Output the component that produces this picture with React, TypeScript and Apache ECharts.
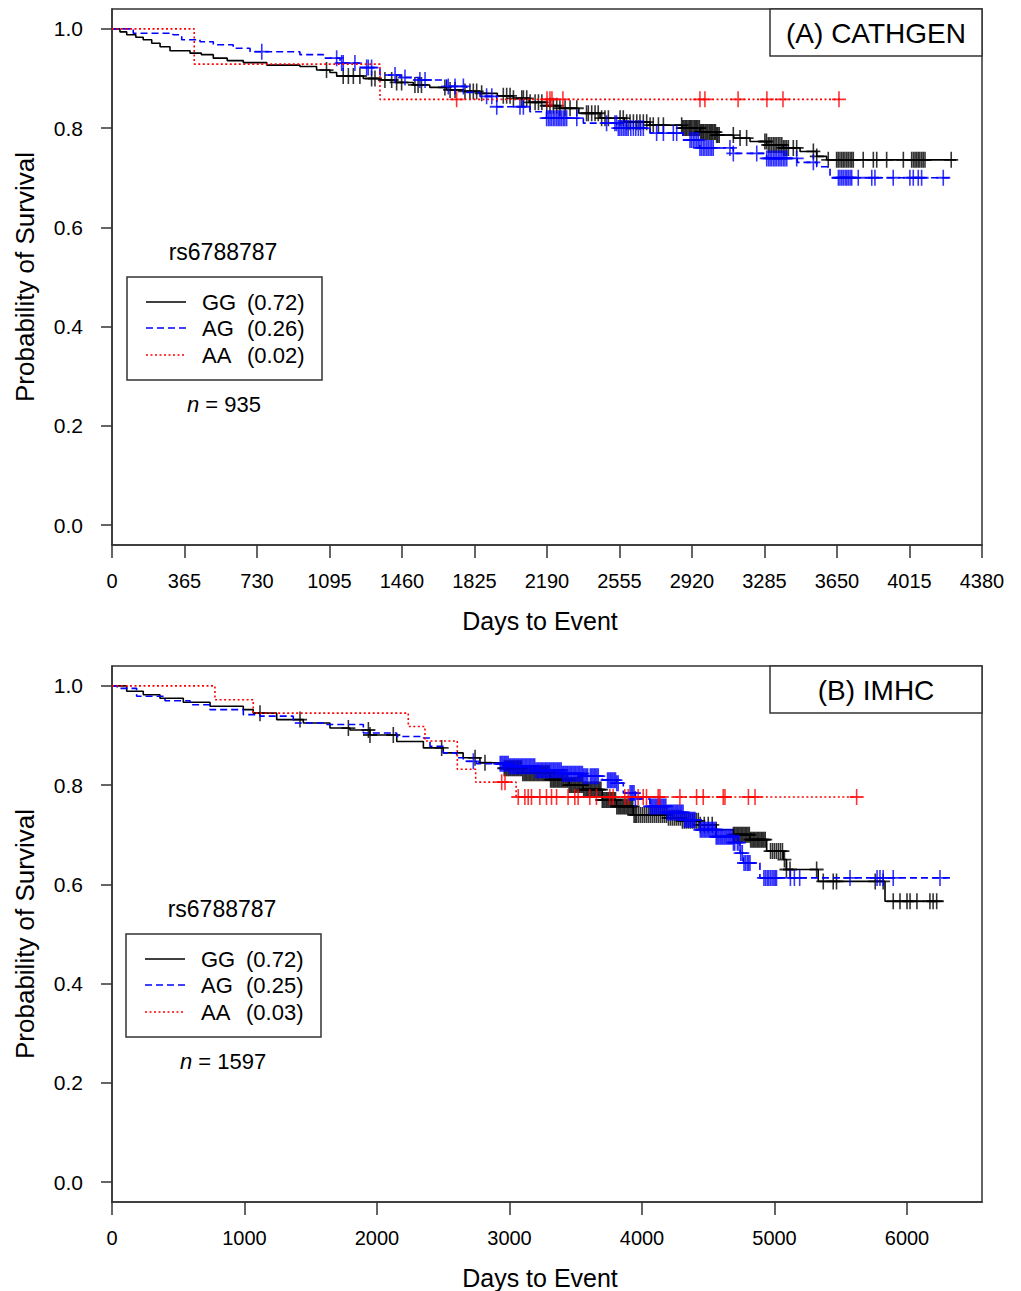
import React, { useEffect, useRef } from "react";
import * as echarts from "echarts";

const FONT = '"Liberation Sans", Arial, Helvetica, sans-serif';

// ---------- Panel A: CATHGEN ----------
const A_X_TICKS = [0, 365, 730, 1095, 1460, 1825, 2190, 2555, 2920, 3285, 3650, 4015, 4380];
const Y_TICKS = [0, 0.2, 0.4, 0.6, 0.8, 1.0];

const A_GG_STEPS: [number, number][] = [
  [0, 1.0], [40, 0.994], [74, 0.988], [120, 0.983], [157, 0.978], [200, 0.971], [242, 0.964], [292, 0.956],
  [393, 0.951], [450, 0.948], [510, 0.941], [580, 0.936], [661, 0.932], [779, 0.927], [946, 0.924],
  [1030, 0.917], [1097, 0.912], [1131, 0.905], [1265, 0.9], [1349, 0.897], [1430, 0.892], [1517, 0.887],
  [1600, 0.882], [1685, 0.877], [1770, 0.874], [1853, 0.87], [1940, 0.865], [2021, 0.86], [2100, 0.852],
  [2188, 0.845], [2255, 0.84], [2350, 0.83], [2457, 0.82], [2580, 0.812], [2709, 0.806], [2870, 0.8],
  [2960, 0.792], [3044, 0.786], [3130, 0.78], [3212, 0.773], [3296, 0.766], [3380, 0.76], [3464, 0.753],
  [3548, 0.743], [3598, 0.736], [4250, 0.736],
];
const A_AG_STEPS: [number, number][] = [
  [0, 1.0], [107, 0.991], [307, 0.988], [351, 0.978], [443, 0.974], [510, 0.968], [610, 0.961], [695, 0.954],
  [946, 0.948], [1064, 0.941], [1148, 0.931], [1250, 0.922], [1349, 0.907], [1450, 0.902], [1550, 0.897],
  [1685, 0.884], [1786, 0.872], [1853, 0.864], [1937, 0.843], [2104, 0.833], [2188, 0.82], [2373, 0.81],
  [2541, 0.8], [2709, 0.79], [2875, 0.776], [2960, 0.76], [3128, 0.749], [3296, 0.739], [3450, 0.731],
  [3548, 0.722], [3615, 0.7], [4219, 0.7],
];
const A_AA_STEPS: [number, number][] = [[0, 1.0], [414, 0.929], [1349, 0.858], [3665, 0.858]];

const A_GG_CENSOR = [1080, 1164, 1190, 1215, 1248, 1307, 1324, 1374, 1408, 1433, 1458, 1525, 1541, 1558, 1676,
  1702, 1727, 1777, 1802, 1819, 1836, 1861, 1970, 1987, 2004, 2021, 2063, 2071, 2088, 2105, 2130, 2147, 2164,
  2189, 2205, 2222, 2239, 2255, 2281, 2306, 2340, 2389, 2398, 2415, 2432, 2448, 2465, 2482, 2499, 2558, 2574,
  2591, 2608, 2625, 2642, 2658, 2675, 2692, 2709, 2725, 2751, 2776, 2868, 2874, 2880, 2887, 2893, 2900, 2907,
  2912, 2918, 2925, 2932, 2938, 2944, 2950, 2957, 2963, 2969, 2975, 2980, 2987, 2994, 3000, 3007, 3013, 3019,
  3025, 3032, 3038, 3044, 3050, 3057, 3128, 3162, 3195, 3287, 3295, 3304, 3312, 3321, 3330, 3338, 3346, 3355,
  3363, 3372, 3380, 3388, 3396, 3405, 3430, 3447, 3531, 3548, 3606, 3648, 3656, 3665, 3674, 3682, 3690, 3699,
  3707, 3716, 3724, 3732, 3782, 3833, 3850, 3900, 3984, 4026, 4035, 4043, 4051, 4059, 4067, 4076, 4084, 4093,
  4225];
const A_AG_CENSOR = [754, 1131, 1156, 1164, 1223, 1282, 1290, 1307, 1425, 1475, 1550, 1576, 1693, 1727, 1769,
  1886, 1912, 1937, 2054, 2071, 2188, 2197, 2205, 2213, 2222, 2230, 2239, 2247, 2255, 2263, 2272, 2280, 2289,
  2340, 2490, 2532, 2540, 2549, 2557, 2566, 2575, 2583, 2591, 2599, 2612, 2625, 2637, 2650, 2662, 2675, 2742,
  2776, 2826, 2843, 2910, 2918, 2927, 2935, 2944, 2952, 2960, 2968, 2977, 2985, 2994, 3002, 3011, 3019, 3027,
  3111, 3128, 3246, 3296, 3305, 3313, 3321, 3330, 3338, 3346, 3355, 3363, 3371, 3380, 3388, 3397, 3447, 3531,
  3657, 3665, 3674, 3682, 3691, 3699, 3707, 3716, 3724, 3757, 3825, 3841, 3933, 4017, 4034, 4059, 4076, 4185];
const A_AA_CENSOR = [1735, 2190, 2205, 2215, 2270, 2960, 2985, 3152, 3297, 3378, 3660];

// ---------- Panel B: IMHC ----------
const B_X_TICKS = [0, 1000, 2000, 3000, 4000, 5000, 6000];

const B_GG_STEPS: [number, number][] = [
  [0, 1.0], [111, 0.989], [236, 0.982], [362, 0.975], [538, 0.967], [740, 0.959], [991, 0.952], [1066, 0.945],
  [1243, 0.932], [1444, 0.925], [1645, 0.915], [1796, 0.911], [1947, 0.901], [2149, 0.888], [2350, 0.875],
  [2500, 0.865], [2650, 0.855], [2777, 0.845], [2953, 0.834], [3100, 0.824], [3306, 0.811], [3450, 0.8],
  [3555, 0.791], [3700, 0.77], [3808, 0.757], [3934, 0.74], [4186, 0.734], [4300, 0.728], [4438, 0.72],
  [4560, 0.71], [4689, 0.7], [4815, 0.69], [4941, 0.667], [5066, 0.65], [5090, 0.63], [5330, 0.606],
  [5834, 0.566], [6274, 0.566],
];
const B_AG_STEPS: [number, number][] = [
  [0, 1.0], [40, 0.995], [186, 0.979], [400, 0.97], [589, 0.962], [740, 0.952], [991, 0.942], [1117, 0.939],
  [1368, 0.925], [1595, 0.922], [1897, 0.905], [2149, 0.898], [2350, 0.895], [2400, 0.878], [2500, 0.865],
  [2601, 0.855], [2651, 0.848], [2752, 0.843], [3000, 0.838], [3200, 0.83], [3400, 0.823], [3555, 0.818],
  [3700, 0.81], [3808, 0.804], [3859, 0.784], [3950, 0.772], [4060, 0.757], [4190, 0.745], [4312, 0.73],
  [4438, 0.71], [4560, 0.696], [4689, 0.684], [4740, 0.663], [4765, 0.643], [4890, 0.613], [6324, 0.613],
];
const B_AA_STEPS: [number, number][] = [
  [0, 1.0], [777, 0.972], [1066, 0.945], [2236, 0.918], [2362, 0.889], [2606, 0.832], [2745, 0.806],
  [3050, 0.776], [5620, 0.776],
];

const B_GG_CENSOR = [1117, 1419, 1784, 1935, 1947, 2123, 2488, 2740, 2815, 2960, 2970, 2980, 2990, 3000, 3010,
  3020, 3030, 3040, 3050, 3060, 3070, 3080, 3090, 3100, 3110, 3120, 3130, 3140, 3150, 3160, 3170, 3180, 3190,
  3200, 3210, 3220, 3230, 3240, 3250, 3260, 3270, 3280, 3290, 3300, 3310, 3320, 3330, 3340, 3350, 3360, 3370,
  3380, 3390, 3400, 3410, 3420, 3430, 3440, 3450, 3460, 3470, 3480, 3490, 3500, 3510, 3520, 3530, 3540, 3550,
  3560, 3570, 3580, 3590, 3600, 3610, 3620, 3630, 3640, 3650, 3660, 3670, 3680, 3690, 3700, 3710, 3720, 3730,
  3740, 3750, 3760, 3770, 3780, 3790, 3800, 3810, 3820, 3830, 3840, 3850, 3860, 3870, 3880, 3890, 3900, 3910,
  3920, 3930, 3940, 3950, 3960, 3975, 3990, 4005, 4020, 4035, 4050, 4065, 4080, 4095, 4110, 4125, 4140, 4155,
  4170, 4185, 4200, 4215, 4230, 4245, 4260, 4275, 4290, 4305, 4320, 4335, 4350, 4365, 4380, 4395, 4410, 4425,
  4440, 4470, 4500, 4530, 4560, 4690, 4700, 4710, 4720, 4730, 4740, 4750, 4760, 4770, 4780, 4790, 4800, 4810,
  4820, 4830, 4840, 4850, 4860, 4870, 4880, 4890, 4900, 4910, 4920, 4930, 4970, 4985, 5000, 5015, 5030, 5045,
  5060, 5075, 5090, 5117, 5318, 5368, 5443, 5468, 5760, 5820, 5896, 5947, 6000, 6023, 6075, 6173, 6197, 6224];
const B_AG_CENSOR = [2727, 2930, 2940, 2950, 2960, 2970, 2980, 2990, 3000, 3010, 3020, 3030, 3040, 3050, 3060,
  3070, 3080, 3090, 3100, 3110, 3120, 3130, 3140, 3150, 3160, 3170, 3180, 3190, 3200, 3210, 3220, 3230, 3240,
  3250, 3260, 3270, 3280, 3290, 3300, 3310, 3320, 3330, 3340, 3350, 3360, 3370, 3380, 3390, 3400, 3410, 3420,
  3430, 3440, 3450, 3460, 3470, 3480, 3490, 3500, 3510, 3520, 3530, 3540, 3550, 3560, 3570, 3580, 3590, 3610,
  3620, 3630, 3640, 3650, 3660, 3670, 3740, 3750, 3760, 3770, 3780, 3790, 3800, 3810, 3820, 3910, 3920, 3930,
  3940, 3950, 4060, 4070, 4080, 4090, 4100, 4110, 4120, 4130, 4140, 4150, 4160, 4170, 4180, 4190, 4200, 4210,
  4220, 4230, 4240, 4250, 4260, 4270, 4280, 4290, 4300, 4310, 4320, 4330, 4340, 4350, 4360, 4370, 4380, 4390,
  4400, 4440, 4450, 4460, 4470, 4480, 4490, 4500, 4510, 4520, 4530, 4540, 4550, 4560, 4570, 4580, 4590, 4600,
  4610, 4620, 4630, 4640, 4650, 4660, 4670, 4680, 4690, 4700, 4720, 4732, 4745, 4757, 4770, 4782, 4795, 4805,
  4815, 4920, 4932, 4945, 4957, 4970, 4982, 4995, 5005, 5015, 5120, 5150, 5190, 5570, 5774, 5796, 5820, 5896,
  6249];
const B_AA_CENSOR = [2941, 2966, 3066, 3116, 3141, 3166, 3229, 3279, 3317, 3355, 3442, 3493, 3518, 3606, 3656,
  3757, 3782, 3870, 3896, 3971, 4009, 4034, 4122, 4135, 4286, 4412, 4462, 4613, 4626, 4803, 4853, 5620];

const GENOTYPES = ["GG", "AG", "AA"];
const A_FREQ = ["(0.72)", "(0.26)", "(0.02)"];
const B_FREQ = ["(0.72)", "(0.25)", "(0.03)"];
const A_N = 935;
const B_N = 1597;

const COLORS = ["#000000", "#0000FF", "#FF0000"];
const DASHES: (number[] | undefined)[] = [undefined, [7, 4], [2, 2.5]];

const PLUS = "path://M5,0L5,10M0,5L10,5";

function survAt(steps: [number, number][], t: number) {
  let s = steps[0][1];
  for (const [d, v] of steps) {
    if (d <= t) s = v;
    else break;
  }
  return s;
}

function makeSeries(idx: number, steps: [number, number][][], censors: number[][]) {
  const out: any[] = [];
  for (let k = 0; k < 3; k++) {
    out.push({
      type: "line",
      xAxisIndex: idx,
      yAxisIndex: idx,
      step: "end",
      showSymbol: false,
      symbol: "none",
      silent: true,
      data: steps[k],
      lineStyle: { color: COLORS[k], width: 1.6, type: DASHES[k] ?? "solid" },
      z: 2 + k,
    });
    out.push({
      type: "scatter",
      xAxisIndex: idx,
      yAxisIndex: idx,
      symbol: PLUS,
      symbolSize: [14, 16],
      silent: true,
      data: censors[k].map((t) => [t, survAt(steps[k], t)]),
      itemStyle: { color: "rgba(0,0,0,0)", borderColor: COLORS[k], borderWidth: 1.7 },
      z: 2 + k,
    });
  }
  return out;
}

function panelGraphics(top: number, title: string, freqs: string[], n: number, offsetX: number) {
  const g: any[] = [];
  g.push({
    type: "rect",
    shape: { x: 770, y: top, width: 212, height: 47 },
    style: { fill: "#fff", stroke: "#333", lineWidth: 1.5 },
    z: 20,
  });
  g.push({
    type: "text",
    x: 876,
    y: top + 24,
    style: { text: title, font: `28px ${FONT}`, fill: "#000", align: "center", verticalAlign: "middle" },
    z: 21,
  });
  g.push({
    type: "text",
    x: 25,
    y: top + 268,
    rotation: Math.PI / 2,
    style: {
      text: "Probability of Survival",
      font: `26px ${FONT}`,
      fill: "#000",
      align: "center",
      verticalAlign: "middle",
    },
  });
  g.push({
    type: "text",
    x: 540,
    y: top + 612,
    style: { text: "Days to Event", font: `25px ${FONT}`, fill: "#000", align: "center", verticalAlign: "middle" },
  });
  g.push({
    type: "text",
    x: 223 + offsetX,
    y: top + 243,
    style: { text: "rs6788787", font: `23px ${FONT}`, fill: "#000", align: "center", verticalAlign: "middle" },
  });
  g.push({
    type: "rect",
    shape: { x: 127 + offsetX, y: top + 268, width: 195, height: 103 },
    style: { fill: "#fff", stroke: "#333", lineWidth: 1.5 },
  });
  const rowY = [top + 293, top + 319, top + 346];
  for (let k = 0; k < 3; k++) {
    g.push({
      type: "line",
      shape: { x1: 146 + offsetX, y1: rowY[k], x2: 186 + offsetX, y2: rowY[k] },
      style: { stroke: COLORS[k], lineWidth: 1.4, lineDash: DASHES[k] ?? null },
    });
    g.push({
      type: "text",
      x: 202 + offsetX,
      y: rowY[k],
      style: { text: GENOTYPES[k], font: `22px ${FONT}`, fill: "#000", align: "left", verticalAlign: "middle" },
    });
    g.push({
      type: "text",
      x: 247 + offsetX,
      y: rowY[k],
      style: { text: freqs[k], font: `22px ${FONT}`, fill: "#000", align: "left", verticalAlign: "middle" },
    });
  }
  g.push({
    type: "text",
    x: 224 + offsetX,
    y: top + 395,
    style: {
      text: `{i|n} = ${n}`,
      font: `22px ${FONT}`,
      fill: "#000",
      align: "center",
      verticalAlign: "middle",
      rich: { i: { fontStyle: "italic", fontSize: 22, fontFamily: FONT, fill: "#000" } },
    },
  });
  return g;
}

function xAxisCfg(idx: number, max: number, ticks: number[]) {
  return {
    type: "value",
    gridIndex: idx,
    min: 0,
    max,
    axisLine: { show: true, onZero: false, lineStyle: { color: "#333", width: 1.5 } },
    axisTick: { show: true, length: 13, customValues: ticks, lineStyle: { color: "#333", width: 1.5 } },
    axisLabel: {
      customValues: ticks,
      fontSize: 20,
      fontFamily: FONT,
      color: "#000",
      margin: 26,
      formatter: (v: number) => String(Math.round(v)),
    },
    splitLine: { show: false },
  };
}

function yAxisCfg(idx: number) {
  return {
    type: "value",
    gridIndex: idx,
    min: -0.04,
    max: 1.04,
    axisLine: { show: true, onZero: false, lineStyle: { color: "#333", width: 1.5 } },
    axisTick: { show: true, length: 11, customValues: Y_TICKS, lineStyle: { color: "#333", width: 1.5 } },
    axisLabel: {
      customValues: Y_TICKS,
      fontSize: 21,
      fontFamily: FONT,
      color: "#000",
      margin: 29,
      formatter: (v: number) => v.toFixed(1),
    },
    splitLine: { show: false },
  };
}

export default function App() {
  const ref = useRef<HTMLDivElement>(null);
  useEffect(() => {
    document.body.style.margin = "0";
    if (!ref.current) return;
    const chart = echarts.init(ref.current, undefined, { renderer: "svg" });
    const option: any = {
      animation: false,
      backgroundColor: "#fff",
      grid: [
        { left: 112, top: 9, width: 870, height: 536, show: true, borderColor: "#333", borderWidth: 1.5, backgroundColor: "transparent" },
        { left: 112, top: 666, width: 870, height: 536, show: true, borderColor: "#333", borderWidth: 1.5, backgroundColor: "transparent" },
      ],
      xAxis: [xAxisCfg(0, 4380, A_X_TICKS), xAxisCfg(1, 6566, B_X_TICKS)],
      yAxis: [yAxisCfg(0), yAxisCfg(1)],
      series: [
        ...makeSeries(0, [A_GG_STEPS, A_AG_STEPS, A_AA_STEPS], [A_GG_CENSOR, A_AG_CENSOR, A_AA_CENSOR]),
        ...makeSeries(1, [B_GG_STEPS, B_AG_STEPS, B_AA_STEPS], [B_GG_CENSOR, B_AG_CENSOR, B_AA_CENSOR]),
      ],
      graphic: [
        ...panelGraphics(9, "(A) CATHGEN", A_FREQ, A_N, 0),
        ...panelGraphics(666, "(B) IMHC", B_FREQ, B_N, -1),
      ],
    };
    chart.setOption(option);
    return () => chart.dispose();
  }, []);
  return <div ref={ref} style={{ width: 1021, height: 1291 }} />;
}
